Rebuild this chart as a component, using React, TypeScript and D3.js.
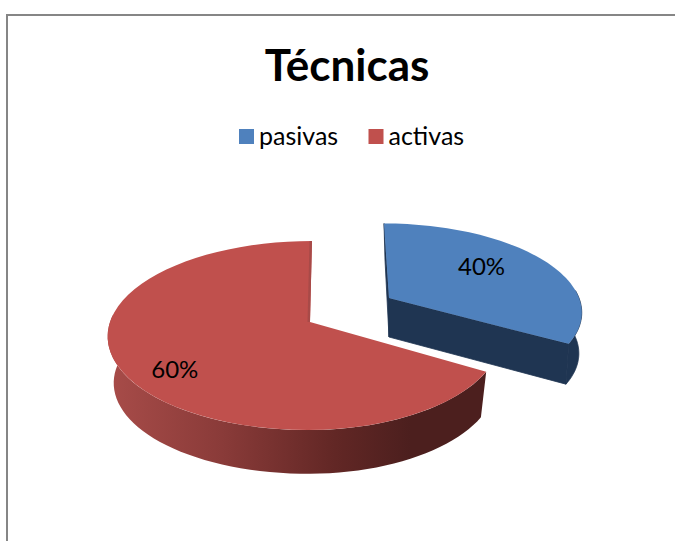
import React from 'react';
import * as d3 from 'd3';

const title = 'Técnicas';
const categories = ['pasivas', 'activas'];
const values = [40, 60];
const labels = ['40%', '60%'];
const colors = ['#4F81BD', '#C0504D'];

const font = 'Lato, "Open Sans", sans-serif';
const DEG = Math.PI / 180;

// the reference's perspective squeezes the front of the pie, so 144° lands near 120° on screen
const warp = d3.scaleLinear().domain([0, 144, 360]).range([0, 120, 360]);

// per slice placement: apex on screen, size of the top face, thickness
const layout = [
  { x: 389, y: 298, sy: 0.92, lean: -5, depth: 41, inset: 0.985, nudge: [-8, -6] },
  { x: 310, y: 322, sy: 1, lean: 2, depth: 47, inset: 0.97, nudge: [-3, 12] },
];

const K = 1 / 7;
const AL = 200;
const AR = 190;
const B = 92.6;

type Geo = (typeof layout)[number];

const project = (g: Geo, deg: number, r = 1, low = false): [number, number] => {
  const u = Math.sin(deg * DEG) * r;
  const v = Math.cos(deg * DEG) * r;
  const d = 1 + K * v;
  const s = low ? g.inset : 1;
  const dx = ((u < 0 ? AL : AR) * u) / d + g.lean * v;
  const dy = (-B * g.sy * v) / d;
  return [g.x + dx * s, g.y + dy * s + (low ? g.depth : 0)];
};

const line = d3.line();

const rim = (g: Geo, a0: number, a1: number, low = false) =>
  d3.range(0, 61).map((i) => project(g, a0 + ((a1 - a0) * i) / 60, 1, low));

export default function App() {
  const arcs = d3.pie<number>().sort(null)(values);
  const angle = (a: number) => warp(a / DEG);

  const blue = layout[0];
  const red = layout[1];
  const [b0, b1] = [angle(arcs[0].startAngle), angle(arcs[0].endAngle)];
  const [r0, r1] = [angle(arcs[1].startAngle), angle(arcs[1].endAngle)];

  const blueApex: [number, number] = [blue.x, blue.y];
  const blueApexLow: [number, number] = [blue.x, blue.y + blue.depth - 2];
  const redApex: [number, number] = [red.x, red.y];

  const blueCut = [blueApex, project(blue, b1), project(blue, b1, 1, true), blueApexLow] as [number, number][];
  const blueOuter = [...rim(blue, 85, b1), ...rim(blue, 85, b1, true).reverse()];
  const blueInner = [blueApex, project(blue, b0), [blue.x - 4, blue.y - 38], blueApexLow] as [number, number][];

  const redOuter = [...rim(red, r0, 275), ...rim(red, r0, 275, true).reverse()];
  const redTop = project(red, r1);
  const redInner = [redTop, redApex, [red.x - 2.5, red.y], [redTop[0] - 2.5, redTop[1]]] as [number, number][];

  const faces = [
    [blueApex, ...rim(blue, b0, b1)],
    [redApex, ...rim(red, r0, r1)],
  ] as [number, number][][];

  return (
    <svg width={675} height={541} style={{ position: 'absolute', left: 0, top: 0 }}>
      <defs>
        <linearGradient id="redSide" gradientUnits="userSpaceOnUse" x1={108} x2={486} y1={0} y2={0}>
          <stop offset="0" stopColor="#A84C49" />
          <stop offset="0.3" stopColor="#8A3B39" />
          <stop offset="0.6" stopColor="#622725" />
          <stop offset="0.8" stopColor="#4C1F1E" />
          <stop offset="1" stopColor="#4C1F1E" />
        </linearGradient>
      </defs>
      <rect x={0} y={0} width={675} height={541} fill="#fff" />
      <rect x={7} y={15} width={900} height={900} fill="#fff" stroke="#868686" strokeWidth={2} />

      <text x={347} y={81} textAnchor="middle" fontFamily={font} fontWeight={700} fontSize={44} fill="#000">
        {title}
      </text>

      {categories.map((c, i) => {
        const sx = [239, 368.5][i];
        return (
          <g key={c}>
            <rect x={sx} y={129} width={15} height={15} fill={colors[i]} />
            <text x={sx + 20} y={145} fontFamily={font} fontSize={25} fill="#000">
              {c}
            </text>
          </g>
        );
      })}

      <g fill="#1F3552" stroke="#1F3552" strokeWidth={0.8}>
        <path d={line(blueInner) + 'Z'} />
        <path d={line(blueCut) + 'Z'} />
        <path d={line(blueOuter) + 'Z'} />
      </g>
      <path d={line(redOuter) + 'Z'} fill="url(#redSide)" />

      {faces.map((f, i) => (
        <path key={categories[i]} d={line(f) + 'Z'} fill={colors[i]} />
      ))}
      <path d={line(redInner) + 'Z'} fill="#A84A48" />

      {arcs.map((a, i) => {
        const mid = angle((a.startAngle + a.endAngle) / 2);
        const g = layout[i];
        const [lx, ly] = project(g, mid, i === 0 ? 0.65 : 0.72);
        return (
          <text
            key={labels[i]}
            x={lx + g.nudge[0]}
            y={ly + g.nudge[1] + 9}
            textAnchor="middle"
            fontFamily={font}
            fontSize={24}
            fill="#000"
          >
            {labels[i]}
          </text>
        );
      })}
    </svg>
  );
}
